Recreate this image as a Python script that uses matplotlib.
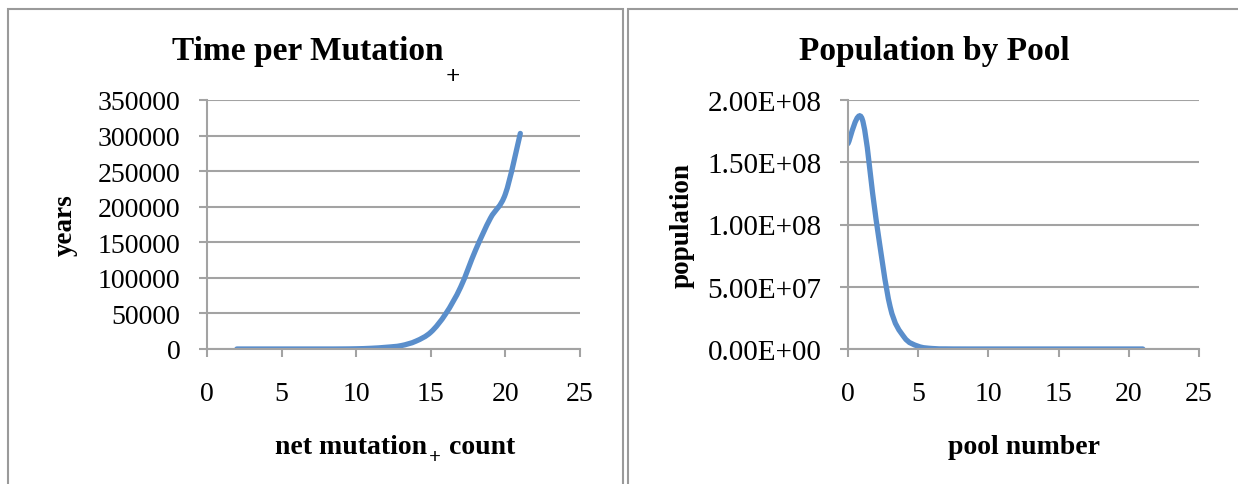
import numpy as np
import matplotlib
matplotlib.use('Agg')
from matplotlib import pyplot as plt
from matplotlib.path import Path
from matplotlib.patches import PathPatch, Rectangle
from matplotlib.ticker import FuncFormatter

plt.rcParams['font.family'] = ['Liberation Serif', 'DejaVu Serif']

# time per mutation
mut_x = [2, 3, 4, 5, 6, 7, 8, 9, 10, 11, 12, 13, 14, 15, 16, 17, 18, 19, 20, 21]
mut_years = [0, 0, 0, 0, 0, 0, 0, 50, 300, 1000, 2400, 4700, 11000, 23600,
             49500, 87000, 139000, 184000, 218000, 303000]

# population by pool
pool_x = list(range(0, 22))
pool_pop = [1.65e8, 1.85e8, 1.04e8, 3.4e7, 9.5e6, 2.2e6, 4.0e5, 7.0e4, 1.0e4,
            0, 0, 0, 0, 0, 0, 0, 0, 0, 0, 0, 0, 0]

line_color = '#5a8ecb'
grid_color = '#a3a3a3'


def smooth_path(xs, ys):
    # bezier segments through the points, spreadsheet-style smoothing
    xs = np.asarray(xs, float)
    ys = np.asarray(ys, float)
    n = len(xs)
    verts = [(xs[0], ys[0])]
    codes = [Path.MOVETO]
    for i in range(n - 1):
        i0 = max(i - 1, 0)
        i3 = min(i + 2, n - 1)
        c1 = (xs[i] + (xs[i + 1] - xs[i0]) / 6, ys[i] + (ys[i + 1] - ys[i0]) / 6)
        c2 = (xs[i + 1] - (xs[i3] - xs[i]) / 6, ys[i + 1] - (ys[i3] - ys[i]) / 6)
        verts += [c1, c2, (xs[i + 1], ys[i + 1])]
        codes += [Path.CURVE4] * 3
    return Path(verts, codes)


def style_axes(ax, ysize):
    for side in ['top', 'right']:
        ax.spines[side].set_visible(False)
    for side in ['left', 'bottom']:
        ax.spines[side].set_color(grid_color)
        ax.spines[side].set_linewidth(1.5)
    ax.tick_params(direction='out', length=6, width=1.5, color=grid_color,
                   labelsize=20, pad=17)
    ax.tick_params(axis='y', pad=13, labelsize=ysize)
    ax.yaxis.grid(True, color=grid_color, linewidth=1.5)
    ax.set_axisbelow(True)
    ax.set_xlim(0, 25)
    ax.set_xticks([0, 5, 10, 15, 20, 25])


def add_sub(ax, anchor, size, dy):
    # small bold "+" hanging below the baseline after a text
    return ax.annotate('+', xy=(1, 0.12), xycoords=anchor, xytext=(1, dy),
                       textcoords='offset points', ha='left', va='center',
                       fontsize=size, fontweight='bold', annotation_clip=False)


fig = plt.figure(figsize=(12.38, 4.85), dpi=100)

# chart frames
for x0, w in [(8, 615), (628, 620)]:
    fig.patches.append(Rectangle((x0 / 1238, -0.1), w / 1238, 1.1 - 9.5 / 485,
                                 transform=fig.transFigure, fill=False,
                                 edgecolor='#9a9a9a', linewidth=1.5))

ax1 = fig.add_axes([207 / 1238, 135 / 485, 373 / 1238, 249 / 485])
style_axes(ax1, 20)
ax1.set_ylim(0, 350000)
ax1.set_yticks(np.arange(0, 350001, 50000))
ax1.add_patch(PathPatch(smooth_path(mut_x, mut_years), fill=False,
                        edgecolor=line_color, linewidth=3.8, capstyle='round'))
ax1.set_ylabel('years', fontsize=19.5, fontweight='bold', labelpad=14.5)
xl1 = ax1.set_xlabel('net mutation', fontsize=20, fontweight='bold', labelpad=20)
xl1.set_horizontalalignment('right')
xl1.set_x(0.59)
title1 = fig.text(308 / 1238, 1 - 52 / 485, 'Time per Mutation', ha='center',
                  va='center', fontsize=24, fontweight='bold')

ax2 = fig.add_axes([848 / 1238, 135 / 485, 351 / 1238, 249 / 485])
style_axes(ax2, 21)
ax2.set_ylim(0, 2.0e8)
ax2.set_yticks(np.arange(0, 2.0e8 + 1, 5.0e7))
ax2.yaxis.set_major_formatter(FuncFormatter(lambda v, p: ('%.2E' % v)))
ax2.add_patch(PathPatch(smooth_path(pool_x, pool_pop), fill=False,
                        edgecolor=line_color, linewidth=3.8, capstyle='round'))
ax2.set_ylabel('population', fontsize=19.5, fontweight='bold', labelpad=9)
ax2.set_xlabel('pool number', fontsize=20, fontweight='bold', labelpad=20)
fig.text(934 / 1238, 1 - 52 / 485, 'Population by Pool', ha='center', va='center',
         fontsize=24, fontweight='bold')

# subscripts after the title and after "mutation", then the rest of the label
fig.canvas.draw()
add_sub(ax1, title1, 18, -10)
add_sub(ax1, xl1, 15, -1)
ax1.annotate('count', xy=(1, 0), xycoords=xl1, xytext=(16, 0),
             textcoords='offset points', ha='left', va='bottom',
             fontsize=20, fontweight='bold', annotation_clip=False)

fig.savefig('out.png', dpi=100)
